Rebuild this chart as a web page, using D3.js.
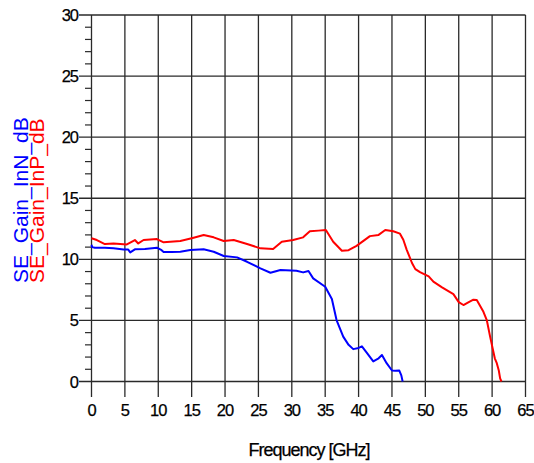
<!DOCTYPE html>
<html><head><meta charset="utf-8">
<script src="https://cdn.jsdelivr.net/npm/d3@7"></script>
<style>
html,body{margin:0;padding:0;background:#fff;}
svg{display:block;}
text{font-family:"Liberation Sans",Arial,sans-serif;}
</style></head>
<body>
<svg id="chart" width="534" height="463"></svg>
<script>
// Data
const freqN = [0,0.1,0.5,2,3.3,4.8,5.5,5.8,6.5,8,9.8,10.5,10.8,12,13.3,14.8,16.8,18.3,19.8,21.8,23.3,25.3,26.8,28.3,30.7,31.7,32.5,33.2,35,36,36.7,37.7,38.5,39.2,40,40.5,41.3,42.2,43,43.5,44.2,45,45.5,46.1,46.4,46.6];
const gainInN = [11.2,11.0,10.95,10.95,10.9,10.8,10.8,10.57,10.82,10.85,10.95,10.75,10.6,10.6,10.62,10.76,10.82,10.62,10.27,10.16,9.8,9.26,8.9,9.12,9.07,8.93,9.04,8.44,7.76,6.75,5.03,3.67,3.0,2.65,2.75,2.88,2.3,1.65,1.9,2.17,1.5,0.9,0.88,0.9,0.5,0];
const freqP = [0,0.8,2,3.3,5.3,6.5,7,7.8,9.8,10.8,13.3,15.3,16.8,18.3,19.8,21.3,23.3,25.3,27.2,28.5,30.2,31.7,32.7,34,35.1,36.2,37.5,38.5,39.7,41.7,43,44,45.2,46.2,46.7,47.2,48,48.5,49.2,50.5,51.2,52.5,54.2,55,55.7,56.5,57.2,57.7,58.7,59.2,59.7,60.4,60.7,61,61.2,61.4];
const gainInP = [11.72,11.58,11.25,11.3,11.22,11.58,11.3,11.58,11.66,11.39,11.5,11.77,11.99,11.8,11.5,11.58,11.25,10.9,10.84,11.44,11.58,11.8,12.3,12.35,12.4,11.44,10.7,10.75,11.1,11.9,12.0,12.4,12.3,12.1,11.6,10.8,9.7,9.2,8.95,8.6,8.17,7.7,7.15,6.5,6.26,6.5,6.7,6.67,5.7,5.03,3.67,1.9,1.5,0.9,0.26,0];
const xTicks = [0,5,10,15,20,25,30,35,40,45,50,55,60,65];
const yTicks = [0,5,10,15,20,25,30];
const yMinor = d3.range(0,31,1);
const seriesNames = ["SE_Gain_InN_dB","SE_Gain_InP_dB"];
const seriesColors = ["#0000ff","#ff0000"];

const svg = d3.select("#chart");
const x = d3.scaleLinear().domain([0,65]).range([91.5,525.5]);
const y = d3.scaleLinear().domain([0,30]).range([381.5,15]);

const grid = svg.append("g");
grid.selectAll("line.vx").data(xTicks).join("line")
  .attr("x1",d=>x(d)).attr("x2",d=>x(d)).attr("y1",y(30)).attr("y2",397)
  .attr("stroke","#2a2a2a").attr("stroke-width",1.3);
grid.selectAll("line.hy").data(yTicks).join("line")
  .attr("x1",79).attr("x2",x(65)).attr("y1",d=>y(d)).attr("y2",d=>y(d))
  .attr("stroke","#2a2a2a").attr("stroke-width",1.3);
grid.selectAll("line.mn").data(yMinor.filter(d=>d%5!==0)).join("line")
  .attr("x1",85).attr("x2",x(0)).attr("y1",d=>y(d)).attr("y2",d=>y(d))
  .attr("stroke","#2a2a2a").attr("stroke-width",1.2);

svg.append("g").selectAll("text").data(xTicks).join("text")
  .attr("x",d=>x(d)).attr("y",416).attr("text-anchor","middle")
  .attr("font-size",16.5).attr("letter-spacing",-1).attr("fill","#000")
  .attr("stroke","#000").attr("stroke-width",0.25)
  .text(d=>d);
svg.append("g").selectAll("text").data(yTicks).join("text")
  .attr("x",78).attr("y",d=>y(d)+6).attr("text-anchor","end")
  .attr("font-size",16.5).attr("letter-spacing",-1).attr("fill","#000")
  .attr("stroke","#000").attr("stroke-width",0.25)
  .text(d=>d);

svg.append("text").attr("x",309).attr("y",456).attr("text-anchor","middle")
  .attr("font-size",18).attr("letter-spacing",-1).attr("fill","#000")
  .attr("stroke","#000").attr("stroke-width",0.25)
  .text("Frequency [GHz]");
const yl = [28,44];
seriesNames.forEach((n,i)=>{
  svg.append("text").attr("transform",`translate(${yl[i]},283) rotate(-90)`)
    .attr("font-size",21).attr("fill",seriesColors[i]).text(n);
});

const line = d3.line().x(d=>x(d[0])).y(d=>y(d[1]));
const dataN = freqN.map((f,i)=>[f,gainInN[i]]);
const dataP = freqP.map((f,i)=>[f,gainInP[i]]);
svg.append("path").datum(dataP).attr("d",line).attr("fill","none")
  .attr("stroke",seriesColors[1]).attr("stroke-width",2).attr("stroke-linejoin","round");
svg.append("path").datum(dataN).attr("d",line).attr("fill","none")
  .attr("stroke",seriesColors[0]).attr("stroke-width",2).attr("stroke-linejoin","round");
</script>
</body></html>
